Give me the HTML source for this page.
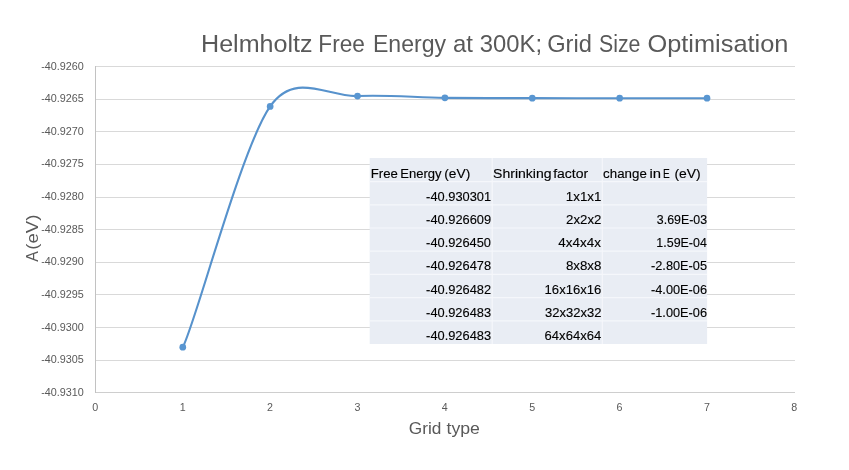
<!DOCTYPE html>
<html><head><meta charset="utf-8"><title>Helmholtz Free Energy at 300K; Grid Size Optimisation</title>
<style>html,body{margin:0;padding:0;background:#fff;overflow:hidden}svg{display:block}text{font-family:"Liberation Sans",sans-serif;white-space:pre}.t text{stroke:#000;stroke-width:.12px}</style></head><body>
<svg width="849" height="470" viewBox="0 0 849 470">
<rect width="849" height="470" fill="#fff"/>
<rect x="95" y="66" width="700" height="1" fill="#d9d9d9"/>
<rect x="95" y="99" width="700" height="1" fill="#d9d9d9"/>
<rect x="95" y="131" width="700" height="1" fill="#d9d9d9"/>
<rect x="95" y="164" width="700" height="1" fill="#d9d9d9"/>
<rect x="95" y="197" width="700" height="1" fill="#d9d9d9"/>
<rect x="95" y="229" width="700" height="1" fill="#d9d9d9"/>
<rect x="95" y="262" width="700" height="1" fill="#d9d9d9"/>
<rect x="95" y="294" width="700" height="1" fill="#d9d9d9"/>
<rect x="95" y="327" width="700" height="1" fill="#d9d9d9"/>
<rect x="95" y="360" width="700" height="1" fill="#d9d9d9"/>
<rect x="95" y="392" width="700" height="1" fill="#cecece"/>
<rect x="95" y="66" width="1" height="327" fill="#c2c2c2"/>
<text x="41.22" y="70.00" font-size="10.70" fill="#595959" textLength="42.60" lengthAdjust="spacingAndGlyphs">-40.9260</text>
<text x="41.22" y="102.00" font-size="10.70" fill="#595959" textLength="42.63" lengthAdjust="spacingAndGlyphs">-40.9265</text>
<text x="41.22" y="135.00" font-size="10.70" fill="#595959" textLength="42.60" lengthAdjust="spacingAndGlyphs">-40.9270</text>
<text x="41.22" y="167.00" font-size="10.70" fill="#595959" textLength="42.63" lengthAdjust="spacingAndGlyphs">-40.9275</text>
<text x="41.22" y="200.00" font-size="10.70" fill="#595959" textLength="42.60" lengthAdjust="spacingAndGlyphs">-40.9280</text>
<text x="41.22" y="233.00" font-size="10.70" fill="#595959" textLength="42.63" lengthAdjust="spacingAndGlyphs">-40.9285</text>
<text x="41.22" y="265.00" font-size="10.70" fill="#595959" textLength="42.60" lengthAdjust="spacingAndGlyphs">-40.9290</text>
<text x="41.22" y="298.00" font-size="10.70" fill="#595959" textLength="42.63" lengthAdjust="spacingAndGlyphs">-40.9295</text>
<text x="41.22" y="330.60" font-size="10.70" fill="#595959" textLength="42.60" lengthAdjust="spacingAndGlyphs">-40.9300</text>
<text x="41.22" y="363.00" font-size="10.70" fill="#595959" textLength="42.63" lengthAdjust="spacingAndGlyphs">-40.9305</text>
<text x="41.22" y="396.00" font-size="10.70" fill="#595959" textLength="42.60" lengthAdjust="spacingAndGlyphs">-40.9310</text>
<text x="95.30" y="410.9" font-size="10.7" fill="#595959" text-anchor="middle">0</text>
<text x="182.68" y="410.9" font-size="10.7" fill="#595959" text-anchor="middle">1</text>
<text x="270.05" y="410.9" font-size="10.7" fill="#595959" text-anchor="middle">2</text>
<text x="357.42" y="410.9" font-size="10.7" fill="#595959" text-anchor="middle">3</text>
<text x="444.80" y="410.9" font-size="10.7" fill="#595959" text-anchor="middle">4</text>
<text x="532.17" y="410.9" font-size="10.7" fill="#595959" text-anchor="middle">5</text>
<text x="619.55" y="410.9" font-size="10.7" fill="#595959" text-anchor="middle">6</text>
<text x="706.92" y="410.9" font-size="10.7" fill="#595959" text-anchor="middle">7</text>
<text x="794.30" y="410.9" font-size="10.7" fill="#595959" text-anchor="middle">8</text>
<text y="51.50" font-size="24.20" fill="#595959"><tspan x="201.04" textLength="111.61" lengthAdjust="spacingAndGlyphs">Helmholtz</tspan> <tspan x="318.34" textLength="46.56" lengthAdjust="spacingAndGlyphs">Free</tspan> <tspan x="372.91" textLength="73.14" lengthAdjust="spacingAndGlyphs">Energy</tspan> <tspan x="452.88" textLength="19.99" lengthAdjust="spacingAndGlyphs">at</tspan> <tspan x="479.79" textLength="62.25" lengthAdjust="spacingAndGlyphs">300K;</tspan> <tspan x="547.21" textLength="44.72" lengthAdjust="spacingAndGlyphs">Grid</tspan> <tspan x="598.93" textLength="41.52" lengthAdjust="spacingAndGlyphs">Size</tspan> <tspan x="647.40" textLength="141.05" lengthAdjust="spacingAndGlyphs">Optimisation</tspan></text>
<text y="433.60" font-size="16.00" fill="#595959"><tspan x="408.83" textLength="32.58" lengthAdjust="spacingAndGlyphs">Grid</tspan> <tspan x="446.53" textLength="33.45" lengthAdjust="spacingAndGlyphs">type</tspan></text>
<g transform="translate(38,0) rotate(-90)">
<text y="0.00" font-size="16.00" fill="#595959"><tspan x="-261.63" textLength="9.76" lengthAdjust="spacingAndGlyphs">A</tspan> <tspan x="-249.75" textLength="35.10" lengthAdjust="spacingAndGlyphs">(eV)</tspan></text>
</g>
<path d="M182.78 347.13 C195.31 324.37 241.02 148.25 270.15 106.41 C295.28 70.30 328.40 97.46 357.52 96.04 C386.65 94.62 415.77 97.52 444.90 97.87 C474.02 98.21 503.15 98.07 532.27 98.13 C561.40 98.18 590.52 98.18 619.65 98.19 C648.77 98.20 692.46 98.19 707.02 98.19" fill="none" stroke="#5792cc" stroke-width="2.1" stroke-linecap="round" stroke-linejoin="round"/>
<circle cx="182.78" cy="347.13" r="3.35" fill="#5996d1"/>
<circle cx="270.15" cy="106.41" r="3.35" fill="#5996d1"/>
<circle cx="357.52" cy="96.04" r="3.35" fill="#5996d1"/>
<circle cx="444.90" cy="97.87" r="3.35" fill="#5996d1"/>
<circle cx="532.27" cy="98.13" r="3.35" fill="#5996d1"/>
<circle cx="619.65" cy="98.19" r="3.35" fill="#5996d1"/>
<circle cx="707.02" cy="98.19" r="3.35" fill="#5996d1"/>
<rect x="369.7" y="158.0" width="337.4" height="186.0" fill="#e9edf4"/>
<line x1="492.2" x2="492.2" y1="158.0" y2="344.0" stroke="#f5f7fb" stroke-width="1.2"/>
<line x1="602.3" x2="602.3" y1="158.0" y2="344.0" stroke="#f5f7fb" stroke-width="1.2"/>
<line x1="369.7" x2="707.1" y1="181.6" y2="181.6" stroke="#f5f7fb" stroke-width="1.2"/>
<line x1="369.7" x2="707.1" y1="204.8" y2="204.8" stroke="#f5f7fb" stroke-width="1.2"/>
<line x1="369.7" x2="707.1" y1="228.0" y2="228.0" stroke="#f5f7fb" stroke-width="1.2"/>
<line x1="369.7" x2="707.1" y1="251.2" y2="251.2" stroke="#f5f7fb" stroke-width="1.2"/>
<line x1="369.7" x2="707.1" y1="274.4" y2="274.4" stroke="#f5f7fb" stroke-width="1.2"/>
<line x1="369.7" x2="707.1" y1="297.6" y2="297.6" stroke="#f5f7fb" stroke-width="1.2"/>
<line x1="369.7" x2="707.1" y1="320.8" y2="320.8" stroke="#f5f7fb" stroke-width="1.2"/>
<g class="t">
<text y="178.20" font-size="12.00" fill="#000"><tspan x="370.72" textLength="27.17" lengthAdjust="spacingAndGlyphs">Free</tspan> <tspan x="400.23" textLength="41.40" lengthAdjust="spacingAndGlyphs">Energy</tspan> <tspan x="444.25" textLength="26.01" lengthAdjust="spacingAndGlyphs">(eV)</tspan></text>
<text y="178.20" font-size="12.00" fill="#000"><tspan x="493.06" textLength="58.54" lengthAdjust="spacingAndGlyphs">Shrinking</tspan> <tspan x="553.20" textLength="35.03" lengthAdjust="spacingAndGlyphs">factor</tspan></text>
<text y="178.20" font-size="12.00" fill="#000"><tspan x="603.13" textLength="43.66" lengthAdjust="spacingAndGlyphs">change</tspan> <tspan x="649.41" textLength="11.56" lengthAdjust="spacingAndGlyphs">in</tspan> <tspan x="663.07" textLength="6.77" lengthAdjust="spacingAndGlyphs">E</tspan> <tspan x="674.44" textLength="26.33" lengthAdjust="spacingAndGlyphs">(eV)</tspan></text>
<text x="426.13" y="200.60" font-size="12.00" fill="#000" textLength="65.00" lengthAdjust="spacingAndGlyphs">-40.930301</text>
<text x="565.78" y="200.60" font-size="12.00" fill="#000" textLength="35.67" lengthAdjust="spacingAndGlyphs">1x1x1</text>
<text x="426.13" y="223.85" font-size="12.00" fill="#000" textLength="64.98" lengthAdjust="spacingAndGlyphs">-40.926609</text>
<text x="566.13" y="223.85" font-size="12.00" fill="#000" textLength="35.33" lengthAdjust="spacingAndGlyphs">2x2x2</text>
<text x="656.83" y="223.85" font-size="12.00" fill="#000" textLength="50.21" lengthAdjust="spacingAndGlyphs">3.69E-03</text>
<text x="426.13" y="247.10" font-size="12.00" fill="#000" textLength="64.87" lengthAdjust="spacingAndGlyphs">-40.926450</text>
<text x="558.39" y="247.10" font-size="12.00" fill="#000" textLength="42.55" lengthAdjust="spacingAndGlyphs">4x4x4x</text>
<text x="656.35" y="247.10" font-size="12.00" fill="#000" textLength="50.51" lengthAdjust="spacingAndGlyphs">1.59E-04</text>
<text x="426.13" y="270.35" font-size="12.00" fill="#000" textLength="64.93" lengthAdjust="spacingAndGlyphs">-40.926478</text>
<text x="565.92" y="270.35" font-size="12.00" fill="#000" textLength="35.45" lengthAdjust="spacingAndGlyphs">8x8x8</text>
<text x="651.03" y="270.35" font-size="12.00" fill="#000" textLength="56.00" lengthAdjust="spacingAndGlyphs">-2.80E-05</text>
<text x="426.13" y="293.60" font-size="12.00" fill="#000" textLength="65.02" lengthAdjust="spacingAndGlyphs">-40.926482</text>
<text x="544.60" y="293.60" font-size="12.00" fill="#000" textLength="56.77" lengthAdjust="spacingAndGlyphs">16x16x16</text>
<text x="651.03" y="293.60" font-size="12.00" fill="#000" textLength="56.03" lengthAdjust="spacingAndGlyphs">-4.00E-06</text>
<text x="426.13" y="316.85" font-size="12.00" fill="#000" textLength="64.93" lengthAdjust="spacingAndGlyphs">-40.926483</text>
<text x="545.11" y="316.85" font-size="12.00" fill="#000" textLength="56.35" lengthAdjust="spacingAndGlyphs">32x32x32</text>
<text x="651.03" y="316.85" font-size="12.00" fill="#000" textLength="56.03" lengthAdjust="spacingAndGlyphs">-1.00E-06</text>
<text x="426.13" y="340.10" font-size="12.00" fill="#000" textLength="64.93" lengthAdjust="spacingAndGlyphs">-40.926483</text>
<text x="544.64" y="340.10" font-size="12.00" fill="#000" textLength="56.54" lengthAdjust="spacingAndGlyphs">64x64x64</text>
</g>
</svg></body></html>
